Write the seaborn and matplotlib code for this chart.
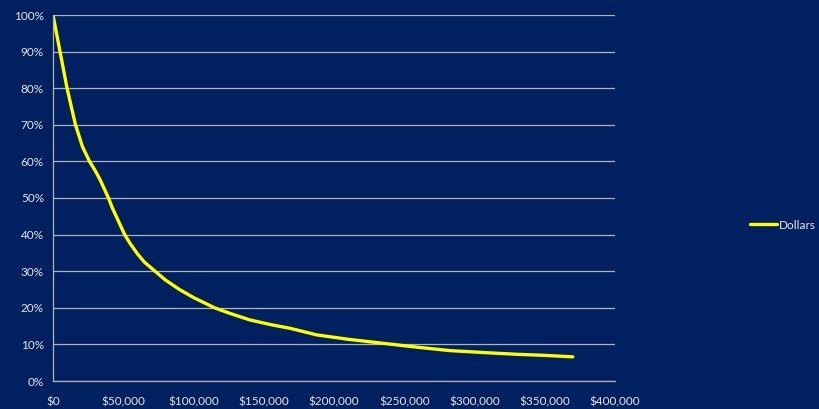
import numpy as np
import pandas as pd
import matplotlib
matplotlib.use("Agg")
import matplotlib.pyplot as plt
import seaborn as sns
from matplotlib.ticker import FuncFormatter, MultipleLocator

# values (dollars in thousands, share in %)
dollars_k = [0, 3, 5, 7.5, 10, 13, 16, 18.5, 21, 26, 30, 33.5, 36.5, 39.5,
             42, 45, 51, 55, 60, 65, 72.6, 80, 90, 100, 115, 125, 140, 155,
             168.7, 187.7, 210, 235, 260, 282.6, 310, 330, 350, 370]
share_pct = [100, 94, 90, 85, 80, 75, 70, 67, 64, 60, 57.5, 55, 52.5, 50,
             47.5, 45, 40, 37.5, 34.8, 32.5, 30, 27.6, 25, 22.8, 20, 18.6,
             16.7, 15.4, 14.4, 12.6, 11.4, 10.3, 9.2, 8.3, 7.7, 7.3, 7.0, 6.6]
x_ticks_k = [0, 50, 100, 150, 200, 250, 300, 350, 400]

df = pd.DataFrame({"Dollars": np.array(dollars_k) * 1000,
                   "Share": np.array(share_pct) / 100})

bg = "#002060"
grid_c = "#B4B4B4"
txt_c = "#E6E6E6"

sns.set_style("dark")
plt.rcParams['font.family'] = ['Lato', 'DejaVu Sans']

fig = plt.figure(figsize=(8.19, 4.09), dpi=100, facecolor=bg)
ax = fig.add_axes([53 / 819, 1 - 381 / 409, (615 - 53) / 819, (381 - 15) / 409])
ax.set_facecolor(bg)

sns.lineplot(data=df, x="Dollars", y="Share", ax=ax, color="#FFFF00",
             linewidth=2.4, label="Dollars", legend=False)

ax.set_xlim(0, 400000)
ax.set_ylim(0, 1.0)
ax.set_xticks([v * 1000 for v in x_ticks_k])
ax.xaxis.set_major_formatter(FuncFormatter(lambda v, p: f"${v:,.0f}"))
ax.yaxis.set_major_locator(MultipleLocator(0.1))
ax.yaxis.set_major_formatter(FuncFormatter(lambda v, p: f"{v * 100:.0f}%"))

ax.grid(axis="y", color=grid_c, linewidth=0.9)
ax.grid(axis="x", visible=False)
for s in ["top", "right"]:
    ax.spines[s].set_visible(False)
for s in ["left", "bottom"]:
    ax.spines[s].set_visible(True)
    ax.spines[s].set_color(grid_c)
    ax.spines[s].set_linewidth(0.9)

ax.tick_params(axis="both", colors=grid_c, labelcolor=txt_c, labelsize=8.5,
               direction="out", length=3, width=0.9)
ax.tick_params(axis="x", pad=8)
ax.set_xlabel("")
ax.set_ylabel("")

handles, labels = ax.get_legend_handles_labels()
leg = fig.legend(handles, labels, loc="center left",
                 bbox_to_anchor=(745 / 819, 1 - 225 / 409), frameon=False,
                 fontsize=8.5, handlelength=2.3, handletextpad=0.2,
                 borderaxespad=0)
for t in leg.get_texts():
    t.set_color(txt_c)

fig.savefig("out.png", dpi=100, facecolor=bg)
